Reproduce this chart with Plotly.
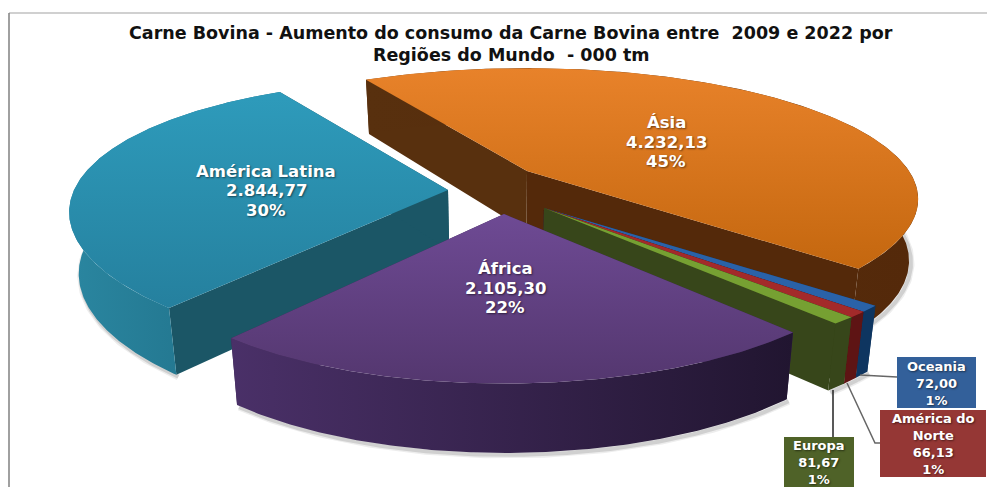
import math
import plotly.graph_objects as go

# ---------- data ----------
regions = ["Ásia", "Oceania", "América do Norte", "Europa", "África", "América Latina"]
values = [4232.13, 72.00, 66.13, 81.67, 2105.30, 2844.77]
value_labels = ["4.232,13", "72,00", "66,13", "81,67", "2.105,30", "2.844,77"]
percent_labels = ["45%", "1%", "1%", "1%", "22%", "30%"]
title_lines = ["Carne Bovina - Aumento do consumo da Carne Bovina entre\u00a0 2009 e 2022 por",
               "Regiões do Mundo\u00a0 - 000 tm"]

# ---------- view of the tilted, exploded pie ----------
START_DEG = -120.0
K = 0.215
VANISH_X = 504
view = {
    "Ásia": dict(x0=527, y0=171, A=382, B=125, S=0, T=0),
    "Oceania": dict(x0=544, y0=208, A=382, B=125, S=0, T=0),
    "América do Norte": dict(x0=544, y0=208, A=382, B=125, S=0, T=0),
    "Europa": dict(x0=544, y0=208, A=382, B=125, S=0, T=0),
    "África": dict(x0=504, y0=214, A=363, B=133, S=13, T=-6),
    "América Latina": dict(x0=448, y0=190, A=373, B=133, S=15, T=2),
}
style = {
    "Ásia": dict(top=("#C4670F", "#E8822A"), arc=("#58300E", "#54290A"), r1="#58300E", r2="#54290A"),
    "Oceania": dict(top=("#2A62A8", "#2A62A8"), arc=("#0E3560", "#0E3560"), r1="#0E3560", r2="#0E3560"),
    "América do Norte": dict(top=("#A32A2A", "#A32A2A"), arc=("#5E1414", "#5E1414"), r1="#5E1414", r2="#5E1414"),
    "Europa": dict(top=("#76A032", "#76A032"), arc=("#37461A", "#37461A"), r1="#37461A", r2="#37461A"),
    "África": dict(top=("#54376F", "#6E4A94"), arc=("#4A3068", "#211530"), r1="#3A2650", r2="#3A2650"),
    "América Latina": dict(top=("#25809E", "#2E9BBB"), arc=("#2A86A0", "#1E6C84"), r1="#1B5666", r2="#1B5666"),
}
draw_order = ["Ásia", "Oceania", "América do Norte", "Europa", "América Latina", "África"]

# text lines: region -> (centre x, [y of each line])
inner_labels = {
    "Ásia": (666, [122, 142, 161]),
    "África": (505, [268, 288, 307]),
    "América Latina": (266, [171, 190, 210]),
}
box_labels = {
    "Oceania": (936, "Oceania", 383),
    "América do Norte": (933, "América do<br>Norte", 444),
    "Europa": (819, "Europa", 462),
}
boxes = {
    "Oceania": dict(x=(897, 976), y=(357, 408), color="#33609A"),
    "América do Norte": dict(x=(880, 986), y=(410, 477), color="#953735"),
    "Europa": dict(x=(784, 854), y=(437, 487), color="#4F6228"),
}
leaders = [
    ([860, 897], [375, 377], "#666666"),
    ([847, 875, 880], [383, 443, 443], "#666666"),
    ([833, 833], [390, 437], "#222222"),
]


def project(name, deg):
    p = view[name]
    t = math.radians(deg)
    u, v = math.cos(t), math.sin(t)
    w = 1 / (1 - K * v)
    return (p["x0"] + (p["A"] * u + p["S"] * v) * w,
            p["y0"] + (p["B"] * v + p["T"] * u) * w, w)


def drop(x, y, w):
    return x - 0.022 * (x - VANISH_X), y + 60 * w ** 0.6


def poly(fig, xs, ys, c1, c2=None, kind="vertical"):
    d = dict(x=xs, y=ys, mode="lines", fill="toself", line=dict(width=0),
             hoverinfo="skip", showlegend=False)
    if c2 is None or c1 == c2:
        d["fillcolor"] = c1
    else:
        d["fillgradient"] = dict(type=kind, colorscale=[[0, c1], [1, c2]])
    fig.add_trace(go.Scatter(**d))


# angles from the values
total = sum(values)
spans = {}
angle = START_DEG
for name, val in zip(regions, values):
    spans[name] = (angle, angle + val / total * 360)
    angle = spans[name][1]

fig = go.Figure()

for name in draw_order:
    a0, a1 = spans[name]
    s = style[name]
    p = view[name]
    n = max(int(abs(a1 - a0)), 2) * 2
    deg = [a0 + (a1 - a0) * i / n for i in range(n + 1)]
    top = [project(name, d) for d in deg]
    bot = [drop(*pt) for pt in top]
    # soft shadow beneath the outer wall (front-facing part only)
    front = [b for b, d in zip(bot, deg) if math.sin(math.radians(d)) > -0.1]
    if len(front) > 1:
        for width, alpha in ((7, 0.07), (4, 0.12)):
            fig.add_trace(go.Scatter(
                x=[b[0] + 2 for b in front], y=[b[1] + 2 for b in front], mode="lines",
                line=dict(width=width, color=f"rgba(0,0,0,{alpha})"),
                hoverinfo="skip", showlegend=False))
    # cut faces first, so those turned away are covered by the wall and top
    ax, ay = p["x0"], p["y0"]
    bx, by = drop(ax, ay, 1)
    for pt, bt, col in ((top[0], bot[0], s["r1"]), (top[-1], bot[-1], s["r2"])):
        poly(fig, [ax, pt[0], bt[0], bx, ax], [ay, pt[1], bt[1], by, ay], col)
    # outer wall
    xs = [t[0] for t in top] + [b[0] for b in reversed(bot)]
    ys = [t[1] for t in top] + [b[1] for b in reversed(bot)]
    arc1, arc2 = s["arc"]
    poly(fig, xs, ys, arc1, arc2, "horizontal")
    # top face
    xs = [ax] + [t[0] for t in top] + [ax]
    ys = [ay] + [t[1] for t in top] + [ay]
    c1, c2 = s["top"]
    poly(fig, xs, ys, c1, c2, "vertical")

for lx, ly, col in leaders:
    fig.add_trace(go.Scatter(x=lx, y=ly, mode="lines", line=dict(width=1.5, color=col),
                             hoverinfo="skip", showlegend=False))

label_font = dict(family="DejaVu Sans", size=16.5, color="white", weight="bold",
                  shadow="1px 1px 2px rgba(0,0,0,0.5)")
annotations = []
for name, (x, ys) in inner_labels.items():
    i = regions.index(name)
    for text, y in zip([name, value_labels[i], percent_labels[i]], ys):
        annotations.append(dict(x=x, y=y, xref="x", yref="y", showarrow=False,
                                text=text, font=label_font))
shapes = [
    dict(type="line", xref="x", yref="y", x0=9, x1=987, y0=13, y1=13,
         line=dict(color="#D0D0D0", width=2), layer="below"),
    dict(type="line", xref="x", yref="y", x0=9, x1=9, y0=13, y1=487,
         line=dict(color="#808080", width=1.5), layer="below"),
]
for name, b in boxes.items():
    i = regions.index(name)
    shapes.append(dict(type="rect", xref="x", yref="y", x0=b["x"][0], x1=b["x"][1],
                       y0=b["y"][0], y1=b["y"][1], fillcolor=b["color"], line=dict(width=0),
                       layer="above"))
    x, words, y = box_labels[name]
    annotations.append(dict(x=x, y=y, xref="x", yref="y", showarrow=False, align="center",
                            text=f"{words}<br>{value_labels[i]}<br>{percent_labels[i]}",
                            font=dict(label_font, size=13)))
for text, y in zip(title_lines, (33, 55)):
    annotations.append(dict(x=511, y=y, xref="x", yref="y", showarrow=False, text=text,
                            font=dict(family="DejaVu Sans", size=17.5, color="#111111", weight="bold")))

fig.update_layout(
    width=987, height=487, margin=dict(l=0, r=0, t=0, b=0),
    paper_bgcolor="white", plot_bgcolor="white", showlegend=False,
    xaxis=dict(range=[0, 987], visible=False, fixedrange=True),
    yaxis=dict(range=[487, 0], visible=False, fixedrange=True),
    annotations=annotations, shapes=shapes,
)
fig.write_html("out.html", config=dict(displayModeBar=False),
               post_script="document.body.style.margin='0';")
